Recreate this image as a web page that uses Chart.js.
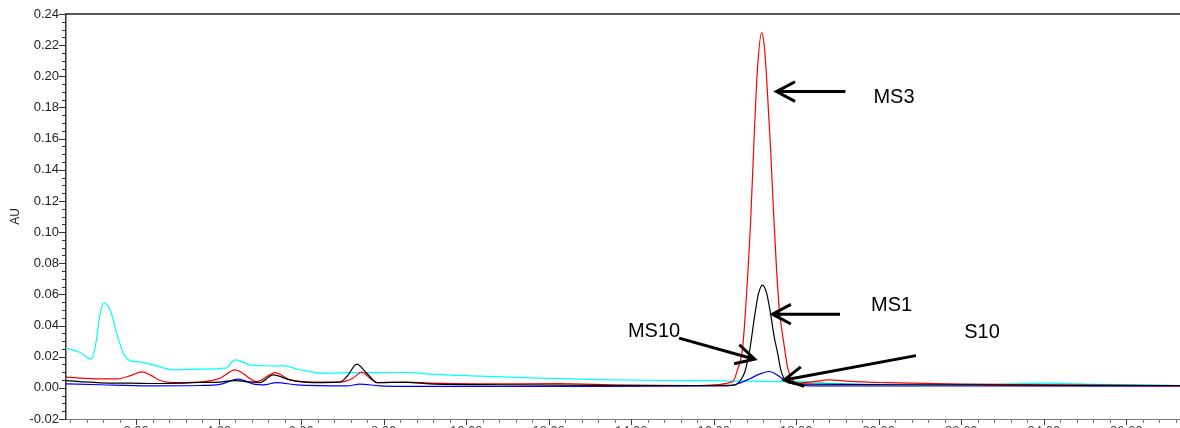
<!DOCTYPE html>
<html>
<head>
<meta charset="utf-8">
<title>UV trace</title>
<script src="https://cdn.jsdelivr.net/npm/chart.js@4.4.1/dist/chart.umd.min.js"></script>
<style>
  html, body { margin: 0; padding: 0; background: #fff; overflow: hidden; }
  #wrap { width: 1180px; height: 428px; overflow: hidden; }
</style>
</head>
<body>
<div id="wrap"><canvas id="trace" width="1180" height="450"></canvas></div>
<script>
// retention time (min) and absorbance (AU) for each run
const cyanTime = [0.3, 0.64, 0.91, 1.01, 1.13, 1.23, 1.37, 1.53, 1.69, 1.85, 2.10, 2.41, 2.90, 3.55, 4.16, 4.40, 4.76, 5.12, 5.41, 5.54, 5.97, 6.53, 7.11, 7.91, 8.59, 9.12, 10.33, 11.78, 13.23, 14.69, 16.31, 17.84, 18.32, 18.73, 20.50, 22.44, 24.06, 25.34, 27.3];
const cyanAU = [0.0255, 0.0227, 0.0184, 0.0265, 0.048, 0.0546, 0.050, 0.035, 0.0223, 0.0175, 0.0165, 0.0148, 0.0116, 0.012, 0.0126, 0.018, 0.0148, 0.0142, 0.014, 0.0143, 0.0116, 0.0094, 0.0098, 0.0098, 0.0099, 0.0088, 0.0075, 0.0062, 0.0053, 0.0047, 0.0045, 0.004, 0.004, 0.003, 0.0022, 0.0022, 0.003, 0.0022, 0.0015];

const redTime = [0.3, 1.13, 1.54, 1.85, 2.14, 2.34, 2.58, 2.90, 3.55, 4.03, 4.40, 4.93, 5.37, 5.73, 6.29, 6.94, 7.25, 7.47, 7.67, 7.84, 8.56, 9.12, 10.33, 12.27, 13.72, 15.66, 16.46, 16.58, 16.70, 16.79, 16.89, 16.99, 17.06, 17.16, 17.23, 17.30, 17.38, 17.45, 17.52, 17.59, 17.69, 17.79, 17.88, 18.03, 18.37, 18.78, 19.29, 20.16, 22.02, 27.3];
const redAU = [0.0069, 0.0058, 0.0058, 0.0077, 0.0103, 0.0083, 0.0047, 0.0034, 0.0037, 0.0062, 0.0116, 0.004, 0.0098, 0.0051, 0.0037, 0.0037, 0.0062, 0.0101, 0.006, 0.0034, 0.0037, 0.003, 0.0025, 0.0027, 0.0018, 0.0015, 0.004, 0.012, 0.026, 0.058, 0.105, 0.168, 0.205, 0.228, 0.218, 0.190, 0.152, 0.112, 0.077, 0.050, 0.030, 0.013, 0.006, 0.003, 0.0038, 0.0051, 0.0042, 0.0034, 0.0024, 0.0013];

const blackTime = [0.3, 0.64, 1.13, 1.85, 2.58, 3.07, 3.55, 3.91, 4.40, 4.76, 5.00, 5.32, 5.73, 6.29, 6.94, 7.11, 7.35, 7.59, 7.84, 8.56, 9.12, 10.81, 13.23, 15.66, 16.50, 16.65, 16.75, 16.87, 16.99, 17.08, 17.18, 17.28, 17.38, 17.47, 17.55, 17.62, 17.69, 17.84, 18.32, 20.50, 22.92, 27.3];
const blackAU = [0.0047, 0.004, 0.0032, 0.003, 0.0028, 0.003, 0.0035, 0.0035, 0.0047, 0.0038, 0.0034, 0.0083, 0.0051, 0.0034, 0.0037, 0.0073, 0.0152, 0.0094, 0.0034, 0.0035, 0.0026, 0.002, 0.0016, 0.0015, 0.0018, 0.005, 0.010, 0.024, 0.046, 0.060, 0.066, 0.061, 0.047, 0.032, 0.022, 0.012, 0.0065, 0.003, 0.0024, 0.002, 0.0018, 0.0015];

const blueTime = [0.3, 1.13, 2.34, 3.55, 4.03, 4.47, 4.88, 5.08, 5.41, 5.90, 7.11, 7.42, 7.91, 9.12, 13.23, 16.26, 16.43, 16.62, 16.87, 17.11, 17.35, 17.55, 17.76, 18.08, 18.49, 22.92, 27.3];
const blueAU = [0.0026, 0.002, 0.0013, 0.0015, 0.0022, 0.0056, 0.0022, 0.0019, 0.0034, 0.0019, 0.0013, 0.0024, 0.0013, 0.0009, 0.0009, 0.0013, 0.0015, 0.003, 0.0058, 0.0088, 0.0105, 0.008, 0.004, 0.0018, 0.0013, 0.0012, 0.0011];

// axis labels
const timeTicks = [2, 4, 6, 8, 10, 12, 14, 16, 18, 20, 22, 24, 26];
const auTicks = [-0.02, 0.00, 0.02, 0.04, 0.06, 0.08, 0.10, 0.12, 0.14, 0.16, 0.18, 0.20, 0.22, 0.24];

// peak callouts: label, text anchor, arrow tail and head (min, AU)
const noteLabels = ['MS3', 'MS1', 'MS10', 'S10'];
const noteText = [[19.87, 0.1864], [19.81, 0.053], [13.92, 0.036], [22.07, 0.0353]];
const noteFrom = [[19.19, 0.1902], [19.06, 0.0473], [15.16, 0.0319], [20.90, 0.0207]];
const noteTo = [[17.52, 0.1902], [17.42, 0.0473], [16.99, 0.0184], [17.71, 0.0051]];

const toPoints = (xs, ys) => xs.map((x, i) => ({ x: x, y: ys[i] }));

const series = (pts, color) => ({
    data: pts,
    borderColor: color,
    borderWidth: 1.2,
    pointRadius: 0,
    fill: false,
    cubicInterpolationMode: 'monotone'
});

// tick marks with minor divisions, plus the frame line on top
const axisTicks = {
    id: 'axisTicks',
    afterDraw(chart) {
        const { ctx, chartArea, scales } = chart;
        const xs = scales.x, ys = scales.y;
        ctx.save();
        ctx.lineWidth = 1;

        // y ticks every 0.005
        for (let k = -4; k <= 48; k++) {
            const py = Math.round(ys.getPixelForValue(k * 0.005)) + 0.5;
            const major = k % 4 === 0;
            ctx.strokeStyle = '#333';
            ctx.beginPath();
            ctx.moveTo(chartArea.left - (major ? 7 : 4), py);
            ctx.lineTo(chartArea.left, py);
            ctx.stroke();
        }

        // x ticks every 0.4 min
        for (let k = 1; k * 0.4 <= xs.max; k++) {
            const px = Math.round(xs.getPixelForValue(k * 0.4)) + 0.5;
            const major = k % 5 === 0;
            ctx.strokeStyle = major ? '#444' : '#777';
            ctx.beginPath();
            ctx.moveTo(px, chartArea.bottom);
            ctx.lineTo(px, chartArea.bottom + (major ? 6 : 4));
            ctx.stroke();
        }

        ctx.strokeStyle = '#222';
        ctx.lineWidth = 1.5;
        ctx.beginPath();
        ctx.moveTo(chartArea.left, chartArea.top);
        ctx.lineTo(chartArea.right, chartArea.top);
        ctx.stroke();
        ctx.restore();
    }
};

// text labels and arrows pointing at the peaks
const callouts = {
    id: 'callouts',
    afterDraw(chart) {
        const { ctx, scales } = chart;
        const xs = scales.x, ys = scales.y;
        ctx.save();
        ctx.fillStyle = '#000';
        ctx.strokeStyle = '#000';
        ctx.font = '20px "Liberation Sans", Arial, sans-serif';
        ctx.textAlign = 'left';
        ctx.textBaseline = 'middle';
        noteLabels.forEach((label, i) => {
            ctx.fillText(label, xs.getPixelForValue(noteText[i][0]), ys.getPixelForValue(noteText[i][1]));

            const x1 = xs.getPixelForValue(noteFrom[i][0]), y1 = ys.getPixelForValue(noteFrom[i][1]);
            const x2 = xs.getPixelForValue(noteTo[i][0]), y2 = ys.getPixelForValue(noteTo[i][1]);
            const ang = Math.atan2(y1 - y2, x1 - x2);
            const head = 21, spread = 28 * Math.PI / 180;
            ctx.lineWidth = 3;
            ctx.beginPath();
            ctx.moveTo(x1, y1);
            ctx.lineTo(x2, y2);
            ctx.moveTo(x2 + head * Math.cos(ang - spread), y2 + head * Math.sin(ang - spread));
            ctx.lineTo(x2, y2);
            ctx.lineTo(x2 + head * Math.cos(ang + spread), y2 + head * Math.sin(ang + spread));
            ctx.stroke();
        });
        ctx.restore();
    }
};

const tickFont = { family: '"Liberation Sans", Arial, sans-serif', size: 13 };

new Chart(document.getElementById('trace'), {
    type: 'line',
    data: {
        datasets: [
            series(toPoints(blackTime, blackAU), '#000000'),
            series(toPoints(redTime, redAU), '#ff0000'),
            series(toPoints(blueTime, blueAU), '#0000ff'),
            series(toPoints(cyanTime, cyanAU), '#00ffff')
        ]
    },
    options: {
        responsive: false,
        animation: false,
        events: [],
        layout: { padding: { top: 14, right: 0, bottom: 0, left: 0 } },
        plugins: {
            legend: { display: false },
            tooltip: { enabled: false }
        },
        scales: {
            x: {
                type: 'linear',
                min: 0.3,
                max: 27.3,
                afterBuildTicks: (s) => { s.ticks = timeTicks.map(v => ({ value: v })); },
                afterFit: (s) => { s.height = 31; },
                ticks: {
                    autoSkip: false,
                    maxRotation: 0,
                    padding: 0,
                    color: '#444',
                    font: tickFont,
                    callback: (v) => Number(v).toFixed(2)
                },
                grid: { drawOnChartArea: false, tickLength: 5, tickColor: 'rgba(0,0,0,0)' },
                border: { color: '#777', width: 1 }
            },
            y: {
                min: -0.02,
                max: 0.24,
                afterBuildTicks: (s) => { s.ticks = auTicks.map(v => ({ value: v })); },
                afterFit: (s) => { s.width = 66; },
                ticks: {
                    padding: 1,
                    color: '#222',
                    font: tickFont,
                    callback: (v) => Number(v).toFixed(2)
                },
                grid: { drawOnChartArea: false, tickLength: 6, tickColor: 'rgba(0,0,0,0)' },
                border: { color: '#333', width: 1.5 },
                title: {
                    display: true,
                    text: 'AU',
                    color: '#222',
                    font: { family: '"Liberation Sans", Arial, sans-serif', size: 12 },
                    padding: { top: 8, bottom: 0 }
                }
            }
        }
    },
    plugins: [axisTicks, callouts]
});
</script>
</body>
</html>
